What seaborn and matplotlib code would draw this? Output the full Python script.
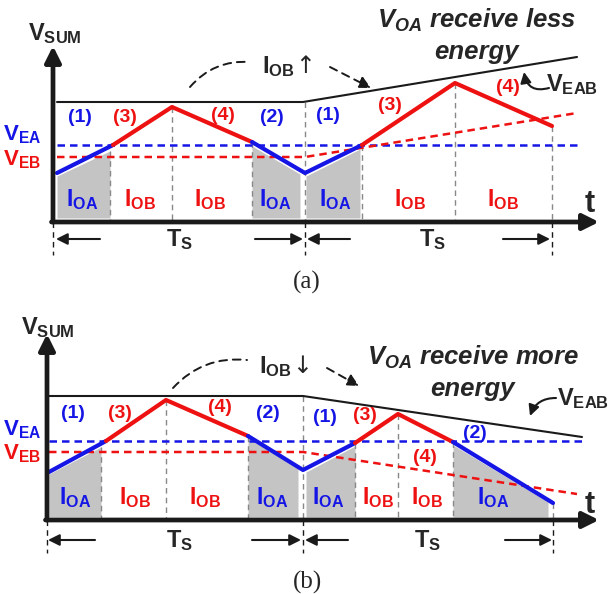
import matplotlib
matplotlib.use("Agg")
import matplotlib.pyplot as plt
import seaborn as sns
from matplotlib.patches import FancyArrowPatch

# positions in pixel units (x = time, y = level, y grows downward)

# ---- panel (a): I_OB rises ----
a_blue1_t = [57, 113]
a_blue1_v = [173, 145]
a_red1_t = [113, 172, 252]
a_red1_v = [145, 107, 142]
a_blue2_t = [252, 305, 362]
a_blue2_v = [142, 173, 145]
a_red2_t = [362, 455, 552]
a_red2_v = [145, 83, 126]
a_eab_t = [57, 303, 577]
a_eab_v = [102, 102, 57]
a_vea_t = [57, 577]
a_vea_v = [145, 145]
a_veb_t = [57, 305, 577]
a_veb_v = [157, 157, 113]
a_gray_t = [[57, 110], [252, 300], [306, 360]]
a_gray_v = [[176, 151], [146, 174], [176, 149]]
a_vlines_t = [110, 172, 252, 305, 362, 455, 552]
a_vlines_v = [151, 107, 142, 102, 145, 83, 126]
a_period_t = [53, 305, 552]

# ---- panel (b): I_OB falls ----
b_blue1_t = [49, 106]
b_blue1_v = [472, 441]
b_red1_t = [106, 166, 248]
b_red1_v = [441, 400, 436]
b_blue2_t = [248, 303, 355]
b_blue2_v = [436, 470, 443]
b_red2_t = [355, 398, 453]
b_red2_v = [443, 414, 442]
b_blue3_t = [453, 553]
b_blue3_v = [442, 503]
b_eab_t = [49, 303, 582]
b_eab_v = [396, 396, 437]
b_vea_t = [49, 582]
b_vea_v = [441, 441]
b_veb_t = [49, 303, 577]
b_veb_v = [452, 452, 494]
b_gray_t = [[49, 101], [248, 298], [306, 355], [453, 548]]
b_gray_v = [[474, 447], [438, 468], [472, 446], [445, 502]]
b_vlines_t = [101, 166, 248, 303, 355, 398, 453, 553]
b_vlines_v = [447, 400, 436, 396, 443, 414, 442, 503]
b_period_t = [47, 303, 553]

BLUE = "#1515E6"
RED = "#EE1111"
GRAY = "#C4C4C4"

sns.set_theme(style="white")
plt.rcParams["font.family"] = ["Liberation Sans", "DejaVu Sans"]
plt.rcParams["mathtext.fontset"] = "custom"
plt.rcParams["mathtext.rm"] = "Liberation Sans"
plt.rcParams["mathtext.bf"] = "Liberation Sans:bold"
plt.rcParams["mathtext.it"] = "Liberation Sans:italic:bold"

fig = plt.figure(figsize=(6.08, 5.94), dpi=100)
ax = fig.add_axes([0, 0, 1, 1])
ax.set_xlim(0, 608)
ax.set_ylim(594, 0)
ax.axis("off")


def wave(t, v, color, lw=3.0, ls="-"):
    sns.lineplot(x=t, y=v, color=color, lw=lw, ls=ls, sort=False,
                 estimator=None, ax=ax, legend=False)


def arrow(p0, p1, lw=1.5, ms=14, style="-|>", ls="-", rad=0.0, color="k"):
    ax.add_patch(FancyArrowPatch(p0, p1, arrowstyle=style, mutation_scale=ms,
                                 lw=lw, ls=ls, color=color,
                                 connectionstyle=f"arc3,rad={rad}",
                                 shrinkA=0, shrinkB=0, zorder=6))


def panel(p):
    d = p["d"]
    # gray I_OA areas
    for gt, gv in zip(p["gray_t"], p["gray_v"]):
        ax.fill_between(gt, gv, p["floor"], color=GRAY, lw=0, zorder=1)
    # guide lines
    for x, y in zip(p["vlines_t"], p["vlines_v"]):
        ax.plot([x, x], [y, p["axis_y"]], color="#888888", lw=1, ls=(0, (4, 3)), zorder=2)
    for x in p["period_t"]:
        ax.plot([x, x], [p["axis_y"], p["axis_y"] + 33], color="k", lw=1, ls=(0, (4, 3)), zorder=2)
    # reference levels
    wave(p["vea_t"], p["vea_v"], BLUE, lw=1.8, ls=(0, (3, 2)))
    wave(p["veb_t"], p["veb_v"], RED, lw=1.8, ls=(0, (3, 2)))
    wave(p["eab_t"], p["eab_v"], "k", lw=1.5)
    # V_SUM waveform
    for key, c in p["segs"]:
        wave(p[key + "_t"], p[key + "_v"], c)
    # axes
    arrow((p["x0"], p["axis_y"]), (p["x0"], p["ytop"]), lw=3.4, ms=24)
    arrow((p["x0"] - 1.5, p["axis_y"]), (599, p["axis_y"]), lw=3.4, ms=24)
    # period arrows
    ty = p["ts_y"]
    for (a0, a1) in p["ts_arrows"]:
        arrow((a0, ty), (a1, ty), lw=1.5, ms=17)
    for x in p["ts_lbl"]:
        ax.text(x, ty + 1, r"$\mathbf{T_S}$", fontsize=17, ha="center", va="center")
    for (x, y, s, c) in p["nums"]:
        ax.text(x, y, s, fontsize=14, color=c, fontweight="bold", ha="center", va="center")
    for (x, y, s, c) in p["currents"]:
        ax.text(x, y, s, fontsize=16.5, color=c, ha="center", va="center")
    ax.text(p["vsum"][0], p["vsum"][1], r"$\mathbf{V_{SUM}}$", fontsize=17, ha="left", va="center")
    ax.text(3, p["vea_lbl"], r"$\mathbf{V_{EA}}$", fontsize=16, color=BLUE, ha="left", va="center")
    ax.text(3, p["veb_lbl"], r"$\mathbf{V_{EB}}$", fontsize=16, color=RED, ha="left", va="center")
    ax.text(p["t_lbl"][0], p["t_lbl"][1], "t", fontsize=22, fontweight="bold", ha="center", va="center")
    ax.text(p["iob"][0], p["iob"][1], r"$\mathbf{I_{OB}}$", fontsize=17, ha="center", va="center")
    ax.text(p["iob"][0] + 27, p["iob"][1] - 1, d, fontsize=17, ha="center", va="center",
            family="DejaVu Sans")
    ax.text(p["note"][0], p["note"][1], p["note_txt"], fontsize=18.5, fontweight="bold",
            fontstyle="italic", ha="center", va="center")
    ax.text(p["note"][0], p["note"][1] + 32, "energy", fontsize=18.5, fontweight="bold",
            fontstyle="italic", ha="center", va="center")
    ax.text(p["veab"][0], p["veab"][1], r"$\mathbf{V_{EAB}}$", fontsize=17, ha="center", va="center")
    arrow(p["veab_arr"][0], p["veab_arr"][1], lw=1.5, ms=16, rad=p["veab_rad"])
    # dashed bend
    arrow(p["bend1"][0], p["bend1"][1], lw=1.4, style="-", ls=(0, (4, 3)), rad=-0.25)
    arrow(p["bend2"][0], p["bend2"][1], lw=1.4, ms=18, ls=(0, (4, 3)), rad=0.0)
    ax.text(307, p["cap_y"], p["cap"], fontsize=18, family="Liberation Serif", ha="center", va="center")


pa = dict(
    d="\u2191", gray_t=a_gray_t, gray_v=a_gray_v, floor=218, axis_y=222,
    vlines_t=a_vlines_t, vlines_v=a_vlines_v, period_t=a_period_t,
    vea_t=a_vea_t, vea_v=a_vea_v, veb_t=a_veb_t, veb_v=a_veb_v,
    eab_t=a_eab_t, eab_v=a_eab_v,
    blue1_t=a_blue1_t, blue1_v=a_blue1_v, red1_t=a_red1_t, red1_v=a_red1_v,
    blue2_t=a_blue2_t, blue2_v=a_blue2_v, red2_t=a_red2_t, red2_v=a_red2_v,
    segs=[("blue1", BLUE), ("red1", RED), ("blue2", BLUE), ("red2", RED)],
    x0=53, ytop=46, ts_y=239,
    ts_arrows=[(100, 56), (255, 303), (350, 307), (503, 550)], ts_lbl=[180, 433],
    nums=[(80, 118, "(1)", BLUE), (125, 118, "(3)", RED), (223, 115, "(4)", RED),
          (272, 118, "(2)", BLUE), (328, 115, "(1)", BLUE), (390, 105, "(3)", RED),
          (508, 88, "(4)", RED)],
    currents=[(82, 200, r"$\mathbf{I_{OA}}$", BLUE), (140, 200, r"$\mathbf{I_{OB}}$", RED),
              (210, 200, r"$\mathbf{I_{OB}}$", RED), (275, 200, r"$\mathbf{I_{OA}}$", BLUE),
              (335, 200, r"$\mathbf{I_{OA}}$", BLUE), (410, 200, r"$\mathbf{I_{OB}}$", RED),
              (503, 200, r"$\mathbf{I_{OB}}$", RED)],
    vsum=(28, 34), vea_lbl=135, veb_lbl=160, t_lbl=(590, 204), iob=(278, 67),
    note=(477, 20), note_txt=r"$V_{OA}$ receive less", veab=(572, 85),
    veab_arr=((549, 88), (524, 72)), veab_rad=-0.55,
    bend1=((190, 87), (250, 62)), bend2=((330, 67), (371, 88)),
    cap="(a)", cap_y=282,
)

pb = dict(
    d="\u2193", gray_t=b_gray_t, gray_v=b_gray_v, floor=517, axis_y=520,
    vlines_t=b_vlines_t, vlines_v=b_vlines_v, period_t=b_period_t,
    vea_t=b_vea_t, vea_v=b_vea_v, veb_t=b_veb_t, veb_v=b_veb_v,
    eab_t=b_eab_t, eab_v=b_eab_v,
    blue1_t=b_blue1_t, blue1_v=b_blue1_v, red1_t=b_red1_t, red1_v=b_red1_v,
    blue2_t=b_blue2_t, blue2_v=b_blue2_v, red2_t=b_red2_t, red2_v=b_red2_v,
    blue3_t=b_blue3_t, blue3_v=b_blue3_v,
    segs=[("blue1", BLUE), ("red1", RED), ("blue2", BLUE), ("red2", RED), ("blue3", BLUE)],
    x0=47, ytop=334, ts_y=540,
    ts_arrows=[(95, 48), (252, 301), (348, 305), (505, 552)], ts_lbl=[180, 428],
    nums=[(73, 413, "(1)", BLUE), (120, 413, "(3)", RED), (220, 408, "(4)", RED),
          (268, 413, "(2)", BLUE), (325, 418, "(1)", BLUE), (365, 415, "(3)", RED),
          (475, 433, "(2)", BLUE), (425, 458, "(4)", RED)],
    currents=[(75, 498, r"$\mathbf{I_{OA}}$", BLUE), (135, 498, r"$\mathbf{I_{OB}}$", RED),
              (205, 498, r"$\mathbf{I_{OB}}$", RED), (272, 498, r"$\mathbf{I_{OA}}$", BLUE),
              (328, 498, r"$\mathbf{I_{OA}}$", BLUE), (378, 498, r"$\mathbf{I_{OB}}$", RED),
              (427, 498, r"$\mathbf{I_{OB}}$", RED), (493, 498, r"$\mathbf{I_{OA}}$", BLUE)],
    vsum=(21, 328), vea_lbl=430, veb_lbl=454, t_lbl=(590, 505), iob=(275, 367),
    note=(473, 357), note_txt=r"$V_{OA}$ receive more", veab=(583, 399),
    veab_arr=((556, 398), (530, 416)), veab_rad=0.35,
    bend1=((173, 388), (247, 360)), bend2=((327, 368), (359, 386)),
    cap="(b)", cap_y=582,
)

panel(pa)
panel(pb)

fig.savefig("out.png", dpi=100)
